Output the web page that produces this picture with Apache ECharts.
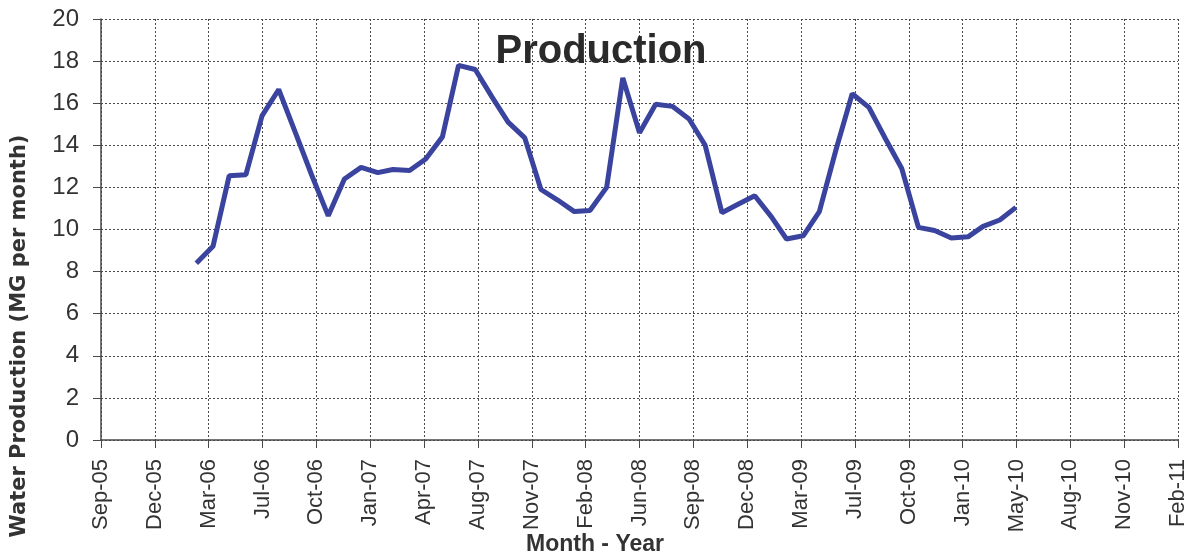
<!DOCTYPE html>
<html>
<head>
<meta charset="utf-8">
<script src="https://cdn.jsdelivr.net/npm/echarts@6/dist/echarts.min.js"></script>
<style>
html,body{margin:0;padding:0;background:#fff;}
#chart{width:1193px;height:556px;}
</style>
</head>
<body>
<div id="chart"></div>
<script>
// Monthly observation dates (first of month)
const months = [
  "2006-03","2006-04","2006-05","2006-06","2006-07","2006-08","2006-09","2006-10","2006-11","2006-12",
  "2007-01","2007-02","2007-03","2007-04","2007-05","2007-06","2007-07","2007-08","2007-09","2007-10","2007-11","2007-12",
  "2008-01","2008-02","2008-03","2008-04","2008-05","2008-06","2008-07","2008-08","2008-09","2008-10","2008-11","2008-12",
  "2009-01","2009-02","2009-03","2009-04","2009-05","2009-06","2009-07","2009-08","2009-09","2009-10","2009-11","2009-12",
  "2010-01","2010-02","2010-03","2010-04","2010-05"
];
// Water production, MG per month
const production = [
  8.4, 9.2, 12.55, 12.6, 15.4, 16.65, 14.6, 12.6, 10.65, 12.4,
  12.95, 12.7, 12.85, 12.8, 13.35, 14.4, 17.8, 17.6, 16.3, 15.1, 14.35, 11.9,
  11.4, 10.85, 10.9, 12.0, 17.2, 14.6, 15.95, 15.85, 15.25, 14.0, 10.8, 11.2,
  11.6, 10.6, 9.55, 9.7, 10.85, 13.8, 16.45, 15.8, 14.3, 12.9, 10.1, 9.95,
  9.6, 9.65, 10.15, 10.45, 11.05
];
// X-axis tick labels (date serials 38600..40600, step 100 days)
const tickLabels = [
  "Sep-05","Dec-05","Mar-06","Jul-06","Oct-06","Jan-07","Apr-07","Aug-07","Nov-07","Feb-08",
  "Jun-08","Sep-08","Dec-08","Mar-09","Jul-09","Oct-09","Jan-10","May-10","Aug-10","Nov-10","Feb-11"
];
const xMin = 38600, xMax = 40600, xStep = 100;

function serial(ym) {
  const [y, m] = ym.split("-").map(Number);
  return Math.round((Date.UTC(y, m - 1, 1) - Date.UTC(1899, 11, 30)) / 86400000);
}
const seriesData = months.map((m, i) => [serial(m), production[i]]);

const chart = echarts.init(document.getElementById('chart'), null, {renderer: 'canvas'});
const gridColor = '#4a4a4a';
chart.setOption({
  backgroundColor: '#ffffff',
  animation: false,
  title: {
    text: 'Production',
    left: 596, top: 27,
    textAlign: 'center',
    textStyle: {fontFamily: 'Liberation Sans, Arial, sans-serif', fontWeight: 'bold', fontSize: 40, color: '#2a2a2a'}
  },
  grid: {left: 101, right: 15, top: 19, bottom: 116, containLabel: false, outerBoundsMode: 'none'},
  xAxis: {
    type: 'value',
    min: xMin, max: xMax, interval: xStep,
    axisLine: {show: true, onZero: false, lineStyle: {color: gridColor, width: 1.5}},
    axisTick: {show: true, inside: false, length: 8, lineStyle: {color: gridColor}},
    axisLabel: {
      rotate: 90, margin: 19,
      fontFamily: 'Liberation Sans, Arial, sans-serif', fontSize: 22, color: '#333',
      formatter: v => tickLabels[Math.round((v - xMin) / xStep)] || ''
    },
    splitLine: {show: true, lineStyle: {color: gridColor, type: [2, 2], width: 1}}
  },
  yAxis: {
    type: 'value',
    min: 0, max: 20, interval: 2,
    axisLine: {show: true, lineStyle: {color: gridColor, width: 1.5}},
    axisTick: {show: true, inside: false, length: 8, lineStyle: {color: gridColor}},
    axisLabel: {margin: 22, fontFamily: 'Liberation Sans Narrow, Liberation Sans, Arial, sans-serif', fontSize: 24, color: '#333'},
    splitLine: {show: true, lineStyle: {color: gridColor, type: [2, 2], width: 1}}
  },
  graphic: [{
    type: 'text',
    x: 20, y: 336,
    rotation: Math.PI / 2,
    style: {
      text: 'Water Production (MG per month)',
      fontFamily: 'DejaVu Sans, sans-serif', fontWeight: 'bold', fontSize: 21,
      fill: '#333', align: 'center', verticalAlign: 'middle'
    }
  }, {
    type: 'text',
    x: 595, y: 545,
    style: {
      text: 'Month - Year',
      fontFamily: 'Liberation Sans Narrow, Liberation Sans, Arial, sans-serif', fontWeight: 'bold', fontSize: 23,
      fill: '#333', align: 'center', verticalAlign: 'middle'
    }
  }],
  series: [{
    type: 'line',
    data: seriesData,
    showSymbol: false,
    symbol: 'none',
    lineStyle: {color: '#3a449f', width: 5},
    itemStyle: {color: '#3a449f'}
  }]
});
</script>
</body>
</html>
